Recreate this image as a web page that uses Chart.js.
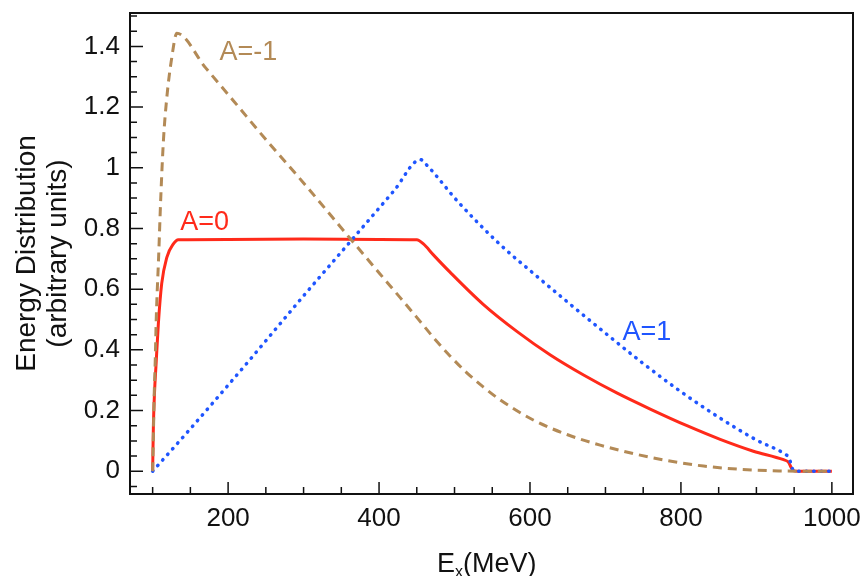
<!DOCTYPE html>
<html>
<head>
<meta charset="utf-8">
<script src="https://cdn.jsdelivr.net/npm/chart.js@4.4.1/dist/chart.umd.min.js"></script>
<style>
    body { margin: 0; background: #fff; }
    #wrap { width: 863px; height: 576px; }
</style>
</head>
<body>
<div id="wrap"><canvas id="energy-chart"></canvas></div>
<script>
// A=-1 (dashed brown)
const xMinus = [100, 101, 102, 103.5, 104.6, 106, 107.6, 110.8, 114.3, 118.8, 125.4, 132, 170, 207, 250, 300, 362, 401, 428, 450, 472, 494, 516, 538, 560, 605, 649, 693, 737, 780, 830, 880, 930, 960, 1000];
const yMinus = [0, 0.12, 0.245, 0.37, 0.487, 0.59, 0.684, 0.903, 1.09, 1.232, 1.364, 1.443, 1.33, 1.221, 1.093, 0.95, 0.766, 0.651, 0.572, 0.507, 0.441, 0.38, 0.325, 0.278, 0.236, 0.168, 0.121, 0.086, 0.058, 0.036, 0.017, 0.006, 0.001, 0, 0];

// A=0 (solid red)
const xZero = [100, 101, 102.5, 104.6, 107.6, 112, 118.8, 127.5, 134, 200, 300, 400, 450, 458.8, 472, 494, 538, 583, 627, 671, 715, 760, 808, 852, 896, 936, 942, 949, 955, 1000];
const yZero = [0, 0.15, 0.26, 0.355, 0.487, 0.618, 0.705, 0.749, 0.763, 0.764, 0.765, 0.764, 0.763, 0.749, 0.713, 0.656, 0.55, 0.46, 0.383, 0.317, 0.258, 0.204, 0.15, 0.105, 0.066, 0.038, 0.031, 0.002, 0, 0];

// A=1 (dotted blue)
const xPlus = [100, 150, 229, 300, 362, 420, 455, 462, 505, 560, 605, 650, 700, 750, 800, 850, 900, 938, 943, 949, 955, 1000];
const yPlus = [0, 0.14, 0.368, 0.578, 0.757, 0.925, 1.027, 1.012, 0.887, 0.748, 0.651, 0.557, 0.455, 0.355, 0.262, 0.178, 0.103, 0.056, 0.045, 0.003, 0, 0];

const xTickValues = [200, 400, 600, 800, 1000];
const yTickValues = [0, 0.2, 0.4, 0.6, 0.8, 1, 1.2, 1.4];

// curve labels: text, x, y (data units)
const curveLabels = ["A=-1", "A=0", "A=1"];
const curveLabelX = [227, 169, 755];
const curveLabelY = [1.379, 0.82, 0.458];
const curveLabelColors = ["#b38a56", "#ff2a1a", "#1f55ff"];

function toPoints(xs, ys) {
    return xs.map((x, i) => ({ x: x, y: ys[i] }));
}

const fontFamily = "'Liberation Sans', Arial, Helvetica, sans-serif";

function noPadding(scale) {
    scale.paddingLeft = 0;
    scale.paddingRight = 0;
    scale.paddingTop = 0;
    scale.paddingBottom = 0;
}

const framePlugin = {
    id: "frame",
    afterDraw(chart) {
        const ctx = chart.ctx;
        const area = chart.chartArea;
        const xs = chart.scales.x;
        const ys = chart.scales.y;
        ctx.save();

        // minor / major ticks pointing inward
        ctx.strokeStyle = "#111";
        ctx.lineWidth = 1.5;
        ctx.beginPath();
        for (let v = 50; v <= 1050; v += 50) {
            if (v < xs.min || v > xs.max) continue;
            const px = xs.getPixelForValue(v);
            const len = v % 200 === 0 ? 12 : 7;
            ctx.moveTo(px, area.bottom);
            ctx.lineTo(px, area.bottom - len);
        }
        for (let i = -2; i <= 31; i++) {
            const v = i * 0.05;
            if (v < ys.min || v > ys.max) continue;
            const py = ys.getPixelForValue(v);
            const len = i % 4 === 0 ? 13 : 7;
            ctx.moveTo(area.left, py);
            ctx.lineTo(area.left + len, py);
        }
        ctx.stroke();

        // box
        ctx.lineWidth = 2;
        ctx.strokeRect(area.left, area.top, area.right - area.left, area.bottom - area.top);

        // curve labels
        ctx.font = "27px " + fontFamily;
        ctx.textAlign = "center";
        ctx.textBaseline = "middle";
        curveLabels.forEach((t, i) => {
            ctx.fillStyle = curveLabelColors[i];
            ctx.fillText(t, xs.getPixelForValue(curveLabelX[i]), ys.getPixelForValue(curveLabelY[i]));
        });

        // y title
        ctx.fillStyle = "#111";
        ctx.save();
        ctx.translate(0, (area.top + area.bottom) / 2);
        ctx.rotate(-Math.PI / 2);
        ctx.font = "28px " + fontFamily;
        ctx.textBaseline = "alphabetic";
        ctx.fillText("Energy Distribution", 0, 35);
        ctx.fillText("(arbitrary units)", 0, 66);
        ctx.restore();

        // x title with subscript
        ctx.textAlign = "left";
        ctx.textBaseline = "alphabetic";
        let x0 = 437;
        const base = 572;
        ctx.font = "27px " + fontFamily;
        ctx.fillText("E", x0, base);
        x0 += ctx.measureText("E").width;
        ctx.font = "16px " + fontFamily;
        ctx.fillText("x", x0, base + 5);
        x0 += ctx.measureText("x").width;
        ctx.font = "27px " + fontFamily;
        ctx.fillText("(MeV)", x0, base);

        ctx.restore();
    }
};

const ctx = document.getElementById("energy-chart");

new Chart(ctx, {
    type: "line",
    data: {
        datasets: [
            {
                label: "A=-1",
                data: toPoints(xMinus, yMinus),
                borderColor: "#b38a56",
                borderWidth: 3,
                borderDash: [9, 6],
                pointRadius: 0,
                cubicInterpolationMode: "monotone"
            },
            {
                label: "A=1",
                data: toPoints(xPlus, yPlus),
                borderColor: "#1f55ff",
                borderWidth: 3.5,
                borderDash: [0.5, 7],
                borderCapStyle: "round",
                pointRadius: 0,
                cubicInterpolationMode: "monotone"
            },
            {
                label: "A=0",
                data: toPoints(xZero, yZero),
                borderColor: "#ff2a1a",
                borderWidth: 3,
                pointRadius: 0,
                cubicInterpolationMode: "monotone"
            }
        ]
    },
    options: {
        responsive: true,
        maintainAspectRatio: false,
        animation: false,
        layout: {
            padding: { top: 13, right: 10, left: 0, bottom: 0 }
        },
        plugins: {
            legend: { display: false },
            tooltip: { enabled: false }
        },
        scales: {
            x: {
                type: "linear",
                min: 70,
                max: 1028,
                afterBuildTicks: (scale) => {
                    scale.ticks = xTickValues.map(v => ({ value: v }));
                },
                afterFit: (scale) => {
                    scale.height = 82;
                    noPadding(scale);
                },
                grid: { display: false, drawTicks: false },
                border: { display: false },
                ticks: {
                    padding: 9,
                    color: "#111",
                    font: { family: fontFamily, size: 26 },
                    maxRotation: 0,
                    callback: (v) => String(v)
                }
            },
            y: {
                type: "linear",
                min: -0.075,
                max: 1.51,
                afterBuildTicks: (scale) => {
                    scale.ticks = yTickValues.map(v => ({ value: v }));
                },
                afterFit: (scale) => {
                    scale.width = 130;
                    noPadding(scale);
                },
                grid: { display: false, drawTicks: false },
                border: { display: false },
                ticks: {
                    padding: 10,
                    color: "#111",
                    font: { family: fontFamily, size: 26 },
                    callback: (v) => String(Number(v.toFixed(2)))
                }
            }
        }
    },
    plugins: [framePlugin]
});
</script>
</body>
</html>
